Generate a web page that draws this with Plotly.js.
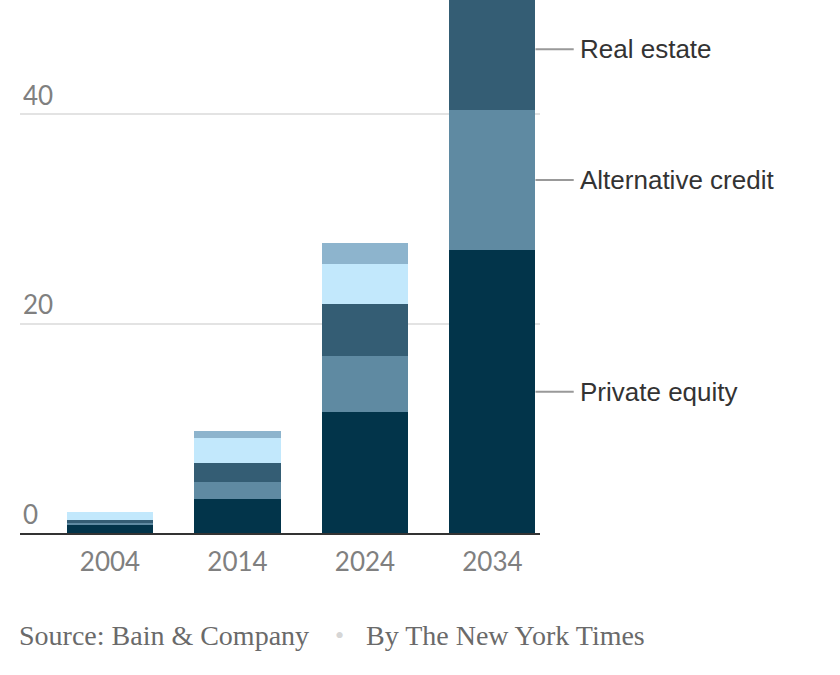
<!DOCTYPE html>
<html>
<head>
<meta charset="utf-8">
<script src="https://cdn.plot.ly/plotly-3.0.1.min.js"></script>
<style>
  html, body { margin: 0; padding: 0; background: #fff; }
  #chart { width: 840px; height: 675px; }
</style>
</head>
<body>
<div id="chart"></div>
<script>
// Data (trillions of dollars)
const years = ["2004", "2014", "2024", "2034"];
const privateEquity = [0.75, 3.2, 11.6, 27.0];
const altCredit = [0.22, 1.7, 5.3, 13.4];
const realEstate = [0.28, 1.8, 5.0, 11.6];
const infrastructure = [0.75, 2.4, 3.8, null];
const naturalResources = [0.0, 0.6, 2.0, null];

const seriesNames = ["Private equity", "Alternative credit", "Real estate", "Infrastructure", "Natural resources"];
const seriesValues = [privateEquity, altCredit, realEstate, infrastructure, naturalResources];
const seriesColors = ["#02344a", "#5f8aa2", "#345d74", "#c2e8fc", "#8db4cd"];

// labelled series (right side of last bar)
const labelled = [0, 1, 2];

const bargap = 0.325;
const xRange = [-0.706, 3.373];
const yRange = [0, 50.9];
const toPaperX = v => (v - xRange[0]) / (xRange[1] - xRange[0]);

const traces = seriesNames.map((name, i) => ({
  type: "bar",
  name: name,
  x: years,
  y: seriesValues[i],
  marker: { color: seriesColors[i], line: { width: 0 } },
  hoverinfo: "name+y"
}));

// label positions: middle of each segment of last bar
const last = years.length - 1;
const halfBar = (1 - bargap) / 2;
const shapes = [];
const annotations = [];
let cum = 0;
for (let i = 0; i < seriesValues.length; i++) {
  const v = seriesValues[i][last];
  if (v == null) continue;
  const mid = cum + v / 2;
  cum += v;
  if (labelled.indexOf(i) >= 0) {
    shapes.push({
      type: "line", xref: "paper", yref: "y",
      x0: toPaperX(last + halfBar), x1: toPaperX(last + halfBar + 0.30),
      y0: mid, y1: mid,
      line: { color: "#999", width: 2 }
    });
    annotations.push({
      xref: "paper", yref: "y", x: toPaperX(last + halfBar + 0.33), y: mid,
      xanchor: "left", yanchor: "middle", showarrow: false,
      text: seriesNames[i],
      font: { family: "Liberation Sans, Arial, sans-serif", size: 26, color: "#333" }
    });
  }
}

const srcFont = { family: "Liberation Serif, Times New Roman, serif", size: 28, color: "#6a6a6a" };
annotations.push({
  xref: "paper", yref: "paper", x: -0.006, y: -0.192, xanchor: "left", yanchor: "middle",
  showarrow: false, text: "Source: Bain &amp; Company", font: srcFont
});
annotations.push({
  xref: "paper", yref: "paper", x: (339 - 20) / 520, y: -0.192, xanchor: "center", yanchor: "middle",
  showarrow: false, text: "•", font: { family: "Liberation Serif, serif", size: 26, color: "#d6d6d6" }
});
annotations.push({
  xref: "paper", yref: "paper", x: (364 - 20) / 520, y: -0.192, xanchor: "left", yanchor: "middle",
  showarrow: false, text: "By The New York Times", font: srcFont
});

const layout = {
  width: 840, height: 675,
  margin: { l: 20, r: 300, t: 0, b: 142, pad: 0 },
  barmode: "stack",
  bargap: bargap,
  showlegend: false,
  paper_bgcolor: "#fff",
  plot_bgcolor: "#fff",
  xaxis: {
    type: "category",
    range: xRange,
    showgrid: false,
    showline: true, linecolor: "#333", linewidth: 2,
    zeroline: false,
    ticks: "outside", ticklen: 5, tickcolor: "rgba(0,0,0,0)",
    tickfont: { family: "Lato, sans-serif", size: 26, color: "#808080" },
    fixedrange: true
  },
  yaxis: {
    range: yRange,
    tickvals: [0, 20, 40],
    ticktext: ["0", "20", "40"],
    showgrid: true, gridcolor: "#e3e3e3", gridwidth: 2,
    zeroline: false, showline: false,
    ticks: "",
    ticklabelposition: "inside top",
    tickfont: { family: "Lato, sans-serif", size: 26, color: "#808080" },
    fixedrange: true
  },
  shapes: shapes,
  annotations: annotations
};

Plotly.newPlot("chart", traces, layout, { displayModeBar: false, staticPlot: true });
</script>
</body>
</html>
